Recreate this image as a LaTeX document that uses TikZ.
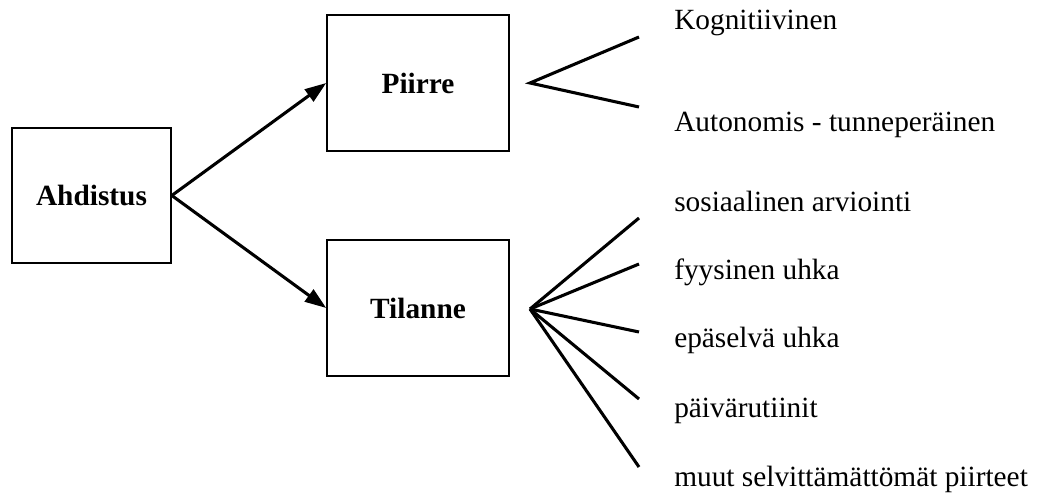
\documentclass[tikz,border=0pt]{standalone}
\usepackage{fontspec}
\setmainfont{Liberation Serif}
\usetikzlibrary{arrows.meta}
\tikzset{
	box/.style={draw, line width=1.2pt, minimum width=136.5pt, minimum height=102pt, inner sep=0pt, font=\fontsize{22}{26}\selectfont\bfseries},
	item/.style={anchor=base west, inner sep=0pt, font=\fontsize{22}{26}\selectfont},
	branch/.style={line width=2.3pt},
	link/.style={line width=2.3pt, -{Triangle[length=16pt, width=11pt]}}
}

\begin{document}
\begin{tikzpicture}[x=0.75pt, y=-0.75pt]
		%%%%% START %%%%%
		
		\useasboundingbox (0, 0) rectangle (1057, 495);
		
		\node[box, minimum width=119.25pt, minimum height=101.25pt] (ahdistus) at (91.5, 195.5) {Ahdistus};
		\node[box] (piirre) at (418, 83) {Piirre};
		\node[box] (tilanne) at (418, 308) {Tilanne};
		
		\draw[link] (ahdistus.east) -- (piirre.west);
		\draw[link] (ahdistus.east) -- (tilanne.west);
		
		\coordinate (pk) at (530, 83);
		\coordinate (tk) at (530, 309);
		
		\coordinate (p1) at (639, 37);
		\coordinate (p2) at (639, 107);
		\draw[branch] (p1) -- (pk) -- (p2);
		
		\coordinate (t1) at (639, 218);
		\coordinate (t2) at (639, 264);
		\coordinate (t3) at (639, 332);
		\coordinate (t4) at (639, 399);
		\coordinate (t5) at (639, 467);
		\foreach \t in {t1,t2,t3,t4,t5}
			\draw[branch] (tk) -- (\t);
		
		\node[item] (kog) at (674, 30) {Kognitiivinen};
		\node[item] (aut) at (674, 132) {Autonomis - tunneperäinen};
		
		\node[item] (sos) at (674, 212) {sosiaalinen arviointi};
		\node[item] (fyy) at (674, 280) {fyysinen uhka};
		\node[item] (epa) at (674, 348) {epäselvä uhka};
		\node[item] (pai) at (674, 417) {päivärutiinit};
		\node[item] (muu) at (674, 486) {muut selvittämättömät piirteet};
		
		%%%%% END %%%%%
	\end{tikzpicture}
\end{document}
